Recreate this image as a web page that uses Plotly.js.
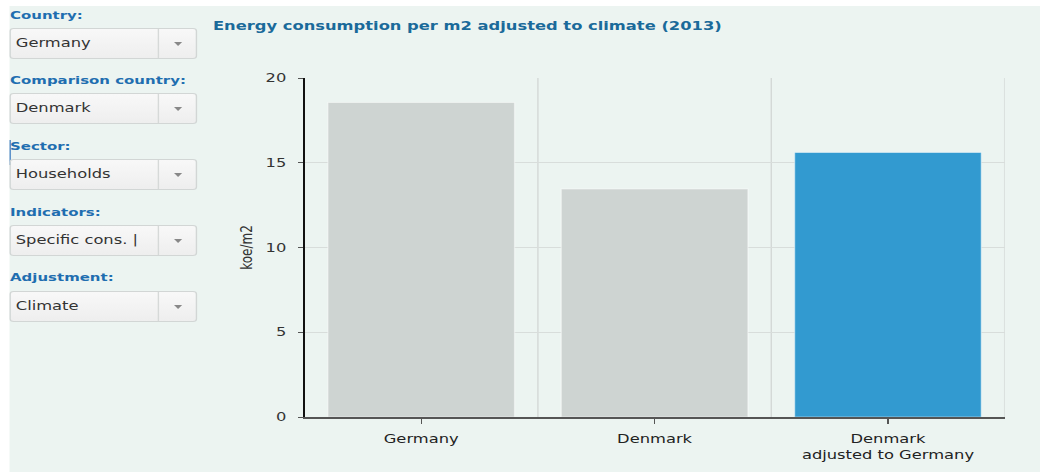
<!DOCTYPE html>
<html>
<head>
<meta charset="utf-8">
<script src="https://cdn.plot.ly/plotly-3.0.1.min.js"></script>
<style>
  html, body { margin: 0; padding: 0; background: #ffffff; }
  body { width: 1040px; height: 472px; overflow: hidden; position: relative; font-family: "DejaVu Sans", Verdana, sans-serif; }
  #stage { position: absolute; left: 0; top: 0; width: 765px; height: 472px; transform: scaleX(1.35948); transform-origin: 0 0; }
  #bg { position: absolute; left: 7.4px; top: 6px; width: 757.6px; height: 466px; background: #ecf4f1; }
  #chart { position: absolute; left: 0; top: 0; width: 765px; height: 472px; }
  .lbl { position: absolute; left: 7.4px; font-size: 11px; font-weight: bold; color: #1f6eb0; line-height: 14px; white-space: nowrap; }
  .dd { position: absolute; left: 7.4px; width: 137.6px; height: 31px; box-sizing: border-box; border: 1px solid #d2d6d5; border-radius: 3px; background: linear-gradient(#f8f8f8, #eeeeee); }
  .dd .txt { position: absolute; left: 3.2px; top: 0; height: 29px; line-height: 29px; font-size: 12px; color: #333; white-space: nowrap; }
  .dd .div { position: absolute; left: 108px; top: 0; width: 1px; height: 29px; background: #d6d9d8; }
  .dd .arr { position: absolute; left: 119.5px; top: 13px; width: 0; height: 0; border-left: 3.5px solid transparent; border-right: 3.5px solid transparent; border-top: 4px solid #888; }
  #mark { position: absolute; left: 7px; top: 140px; width: 1px; height: 25px; background: #4a86c4; }
</style>
</head>
<body>
<div id="stage">
  <div id="bg"></div>
  <div id="mark"></div>
  <div id="panel"></div>
  <div id="chart"></div>
</div>
<script>
// ---- data ----
const categories = ["Germany", "Denmark", "Denmark adjusted to Germany"];
const tickLabels = ["Germany", "Denmark", "Denmark<br>adjusted to Germany"];
const values = [18.55, 13.45, 15.6];
const barColors = ["#ced4d2", "#ced4d2", "#329ad0"];
const yTicks = [0, 5, 10, 15, 20];

const controlLabels = ["Country:", "Comparison country:", "Sector:", "Indicators:", "Adjustment:"];
const controlValues = ["Germany", "Denmark", "Households", "Specific cons. |", "Climate"];

// ---- left panel (HTML controls) ----
const panel = document.getElementById('panel');
const labelTops = [9, 74, 140, 206, 271];
const boxTops = [28, 93, 159, 225, 291];
controlLabels.forEach((t, i) => {
  const l = document.createElement('div');
  l.className = 'lbl';
  l.style.top = labelTops[i] + 'px';
  l.textContent = t;
  panel.appendChild(l);
  const d = document.createElement('div');
  d.className = 'dd';
  d.style.top = boxTops[i] + 'px';
  const tx = document.createElement('div');
  tx.className = 'txt';
  tx.textContent = controlValues[i];
  d.appendChild(tx);
  const dv = document.createElement('div'); dv.className = 'div'; d.appendChild(dv);
  const ar = document.createElement('div'); ar.className = 'arr'; d.appendChild(ar);
  panel.appendChild(d);
});

// ---- chart ----
const boundaryShapes = categories.map((c, i) => ({
  type: 'line', xref: 'x', yref: 'paper',
  x0: i + 0.5, x1: i + 0.5, y0: 0, y1: 1,
  line: { color: '#d3d8d6', width: 1 }, layer: 'below'
}));

const trace = {
  type: 'bar',
  x: categories,
  y: values,
  marker: { color: barColors, line: { color: 'rgba(255,255,255,0.45)', width: 1 } },
  hoverinfo: 'x+y'
};

const layout = {
  width: 765,
  height: 472,
  margin: { l: 224, r: 26, t: 78, b: 55, pad: 0 },
  paper_bgcolor: 'rgba(0,0,0,0)',
  plot_bgcolor: 'rgba(0,0,0,0)',
  showlegend: false,
  bargap: 0.2,
  font: { family: 'DejaVu Sans, Verdana, sans-serif', size: 12, color: '#333' },
  title: {
    text: '<b>Energy consumption per m2 adjusted to climate (2013)</b>',
    xref: 'container', yref: 'container',
    x: 0.2048, xanchor: 'left',
    y: 0.945, yanchor: 'middle',
    font: { family: 'DejaVu Sans, Verdana, sans-serif', size: 12, color: '#1a6a9a' }
  },
  xaxis: {
    type: 'category',
    range: [-0.5, 2.5],
    tickmode: 'array',
    tickvals: categories,
    ticktext: tickLabels,
    ticks: 'outside', ticklen: 5, tickcolor: '#555', tickwidth: 1,
    showgrid: false,
    showline: true, linecolor: '#555', linewidth: 2,
    tickfont: { size: 12, color: '#222' },
    ticklabelstandoff: 5,
    zeroline: false,
    fixedrange: true
  },
  yaxis: {
    range: [0, 20],
    tickmode: 'array',
    tickvals: yTicks,
    ticks: 'outside', ticklen: 4, tickcolor: '#555', tickwidth: 1,
    showgrid: true, gridcolor: '#d8dddb', gridwidth: 1,
    showline: true, linecolor: '#111', linewidth: 1,
    zeroline: false,
    tickfont: { size: 12, color: '#333' },
    ticklabelstandoff: 6,
    title: { text: 'koe/m2', font: { size: 12, color: '#333' }, standoff: 6 },
    fixedrange: true
  },
  shapes: boundaryShapes
};

Plotly.newPlot('chart', [trace], layout, { displayModeBar: false, staticPlot: true });
</script>
</body>
</html>
